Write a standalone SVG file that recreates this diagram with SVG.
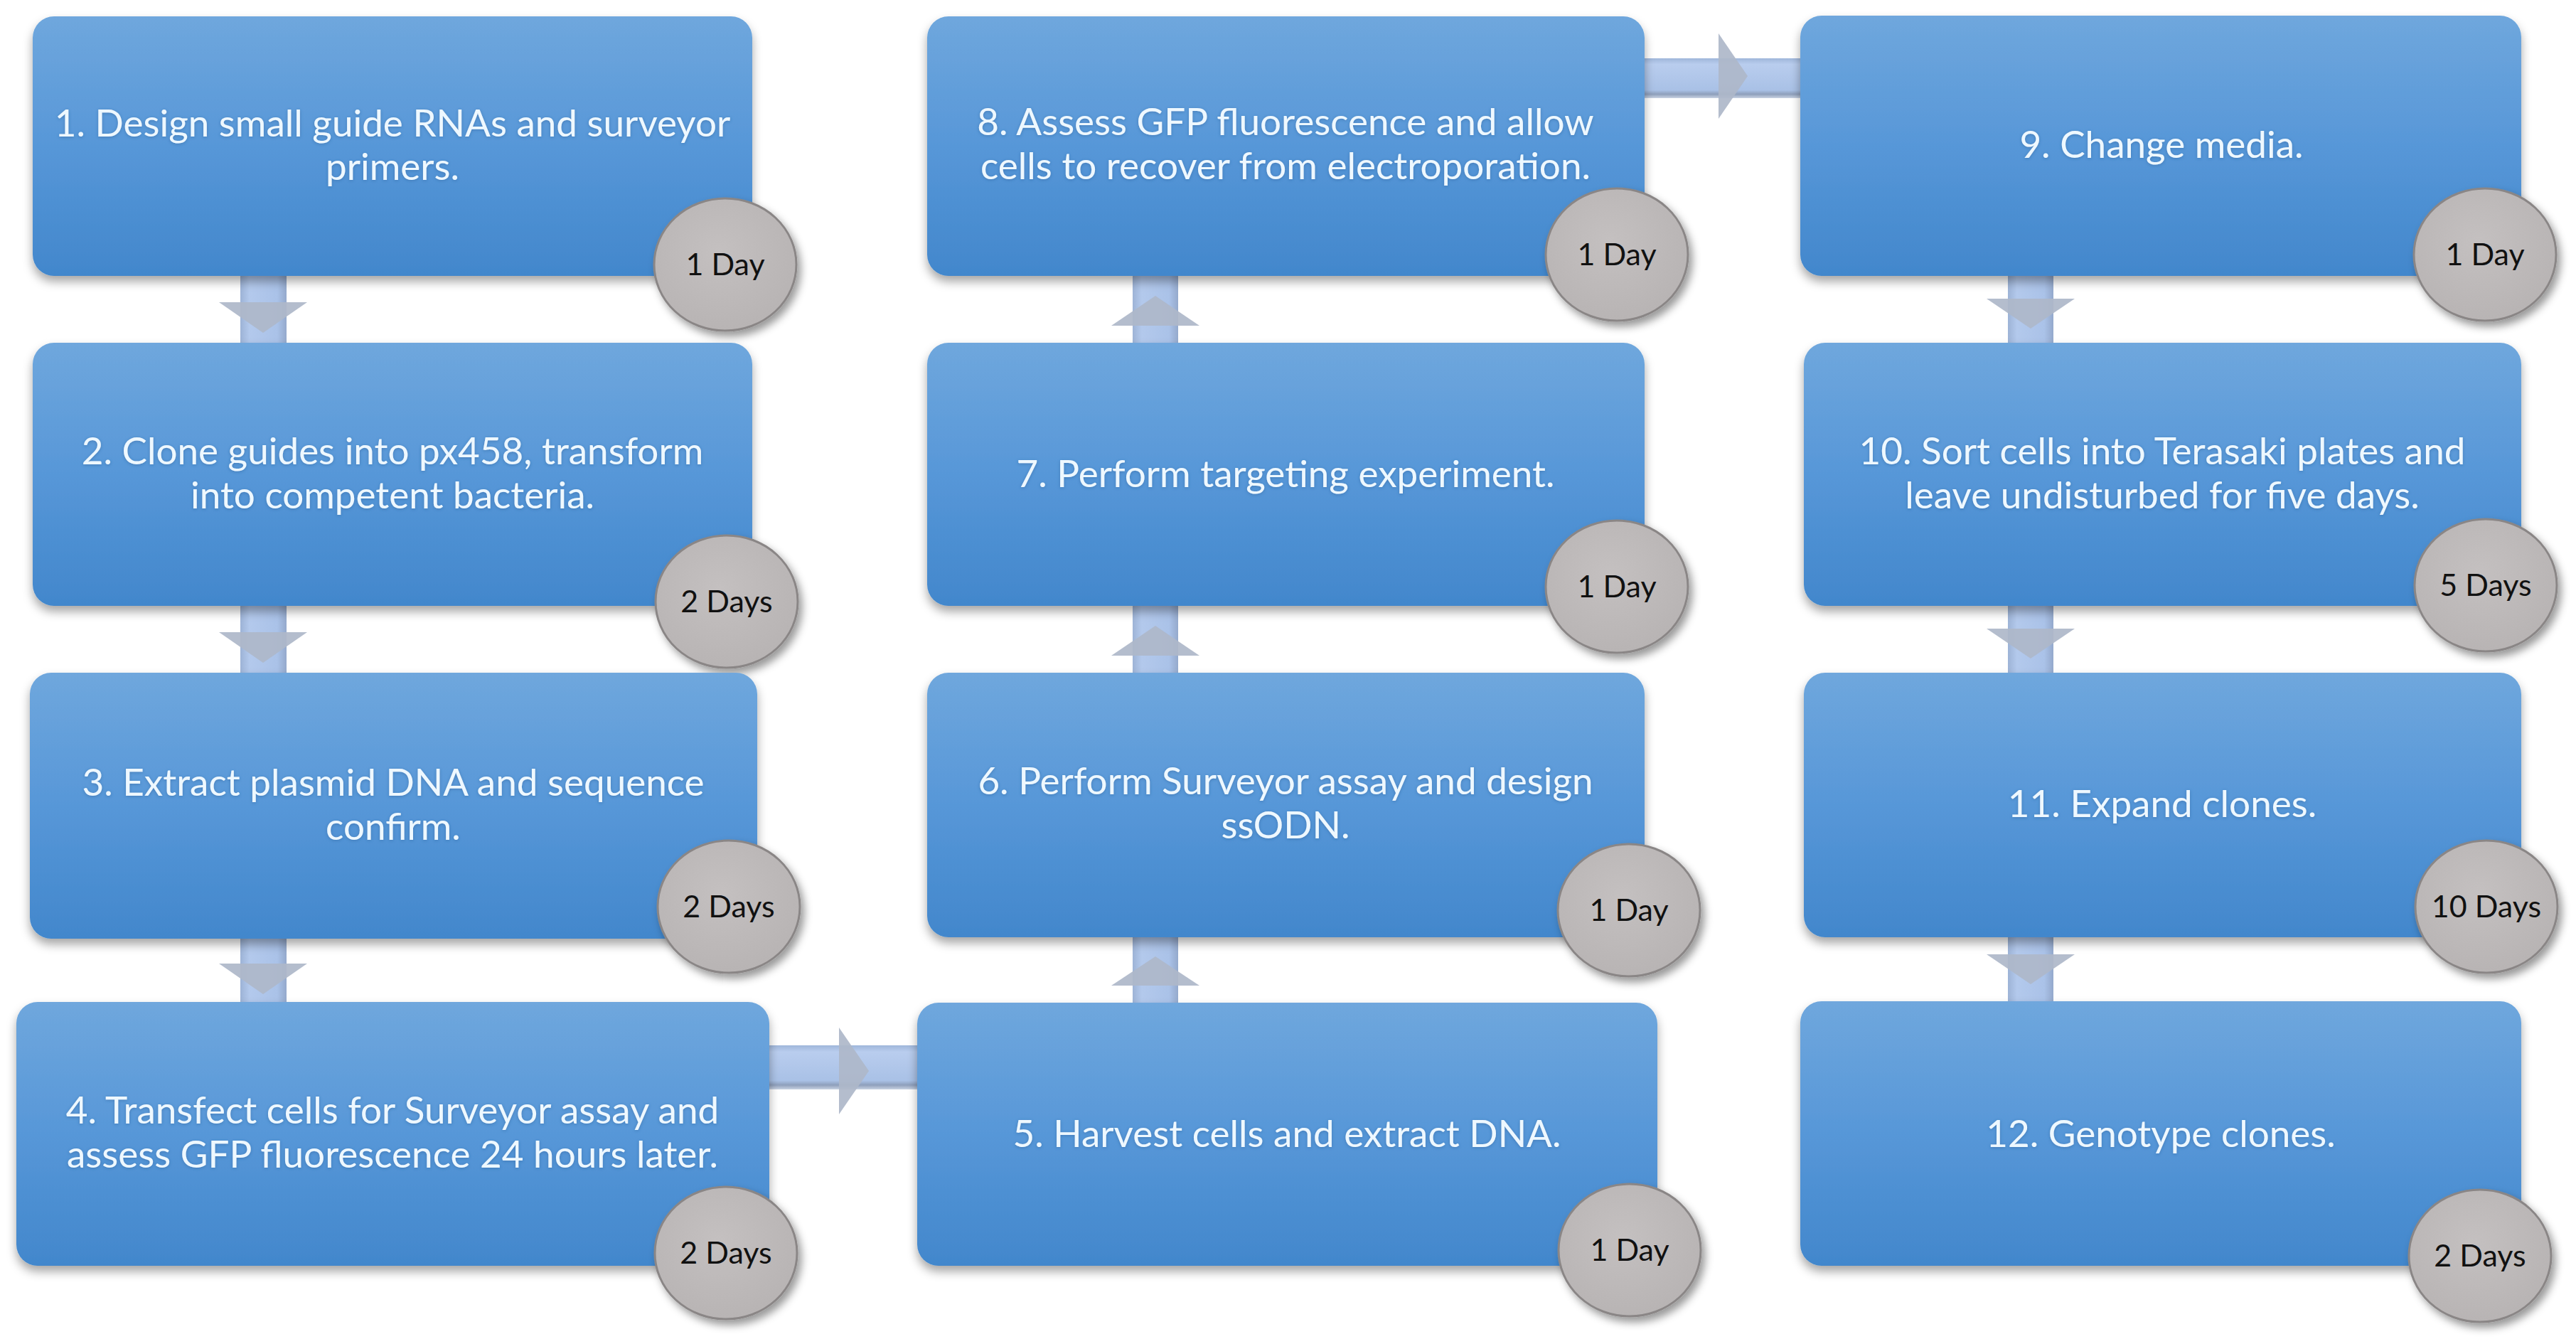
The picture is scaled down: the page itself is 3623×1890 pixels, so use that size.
<svg xmlns="http://www.w3.org/2000/svg" width="3623" height="1890" viewBox="0 0 3623 1890">
<defs>
<linearGradient id="boxg" x1="0" y1="0" x2="0" y2="1">
<stop offset="0" stop-color="#6fa7dd"/>
<stop offset="0.5" stop-color="#5797d8"/>
<stop offset="1" stop-color="#4287cc"/>
</linearGradient>
<radialGradient id="circg" cx="0.45" cy="0.4" r="0.7">
<stop offset="0" stop-color="#c4c0c0"/>
<stop offset="1" stop-color="#b6b2b2"/>
</radialGradient>
<linearGradient id="hbar" x1="0" y1="0" x2="0" y2="1">
<stop offset="0" stop-color="#9fb6da"/>
<stop offset="0.15" stop-color="#b9cdee"/>
<stop offset="0.8" stop-color="#a9c1e6"/>
<stop offset="0.9" stop-color="#8e9fbb"/>
<stop offset="1" stop-color="#c8d2e2"/>
</linearGradient>
<linearGradient id="vbar" x1="0" y1="0" x2="1" y2="0">
<stop offset="0" stop-color="#9db3d6"/>
<stop offset="0.2" stop-color="#b3c9ec"/>
<stop offset="0.8" stop-color="#aac2e8"/>
<stop offset="1" stop-color="#94a9cc"/>
</linearGradient>
<filter id="sh" x="-10%" y="-10%" width="120%" height="130%">
<feDropShadow dx="0" dy="8" stdDeviation="7" flood-color="#000" flood-opacity="0.35"/>
</filter>
<filter id="csh" x="-20%" y="-20%" width="150%" height="150%">
<feDropShadow dx="5" dy="7" stdDeviation="6" flood-color="#000" flood-opacity="0.4"/>
</filter>
<filter id="glow" x="-5%" y="-20%" width="110%" height="140%">
<feGaussianBlur in="SourceAlpha" stdDeviation="2"/>
<feOffset dx="0" dy="1" result="b"/>
<feFlood flood-color="#2a5d95" flood-opacity="0.5"/>
<feComposite in2="b" operator="in"/>
<feMerge><feMergeNode/><feMergeNode in="SourceGraphic"/></feMerge>
</filter>
</defs>
<style>
.box{fill:url(#boxg);filter:url(#sh);}
.badge{fill:url(#circg);stroke:#8a8686;stroke-width:3;filter:url(#csh);}
.t{font-family:Lato,"Open Sans","Liberation Sans",sans-serif;font-size:53px;fill:#eef8ff;text-anchor:middle;filter:url(#glow);}
.d{font-family:Lato,"Open Sans","Liberation Sans",sans-serif;font-size:43px;fill:#111;text-anchor:middle;}
.head{fill:#aeb7c9;opacity:0.92;}
</style>
<rect width="3623" height="1890" fill="#ffffff"/>
<g id="connectors">
<rect x="338" y="388" width="65" height="94" fill="url(#vbar)"/>
<polygon class="head" points="308,425 432,425 370,468"/>
<rect x="338" y="852" width="65" height="94" fill="url(#vbar)"/>
<polygon class="head" points="308,889 432,889 370,932"/>
<rect x="338" y="1320" width="65" height="89" fill="url(#vbar)"/>
<polygon class="head" points="308,1355 432,1355 370,1398"/>
<rect x="1082" y="1470" width="208" height="62" fill="url(#hbar)"/>
<polygon class="head" points="1180,1445 1180,1567 1222,1506"/>
<rect x="1593" y="1318" width="64" height="92" fill="url(#vbar)"/>
<polygon class="head" points="1563,1386 1687,1386 1625,1345"/>
<rect x="1593" y="852" width="64" height="94" fill="url(#vbar)"/>
<polygon class="head" points="1563,922 1687,922 1625,880"/>
<rect x="1593" y="388" width="64" height="94" fill="url(#vbar)"/>
<polygon class="head" points="1563,458 1687,458 1625,416"/>
<rect x="2313" y="82" width="219" height="56" fill="url(#hbar)"/>
<polygon class="head" points="2417,47 2417,167 2458,107"/>
<rect x="2824" y="388" width="64" height="94" fill="url(#vbar)"/>
<polygon class="head" points="2794,420 2918,420 2856,462"/>
<rect x="2824" y="852" width="64" height="94" fill="url(#vbar)"/>
<polygon class="head" points="2794,884 2918,884 2856,926"/>
<rect x="2824" y="1318" width="64" height="90" fill="url(#vbar)"/>
<polygon class="head" points="2794,1342 2918,1342 2856,1384"/>
</g>
<g id="node1">
<rect class="box" x="46" y="23" width="1012" height="365" rx="30"/>
<text class="t" x="552" y="192">1. Design small guide RNAs and surveyor</text>
<text class="t" x="552" y="253">primers.</text>
<ellipse class="badge" cx="1020" cy="372" rx="100" ry="93"/>
<text class="d" x="1020" y="387">1 Day</text>
</g>
<g id="node2">
<rect class="box" x="46" y="482" width="1012" height="370" rx="30"/>
<text class="t" x="552" y="653">2. Clone guides into px458, transform</text>
<text class="t" x="552" y="715">into competent bacteria.</text>
<ellipse class="badge" cx="1022" cy="846" rx="100" ry="93"/>
<text class="d" x="1022" y="861">2 Days</text>
</g>
<g id="node3">
<rect class="box" x="42" y="946" width="1023" height="374" rx="30"/>
<text class="t" x="553" y="1119">3. Extract plasmid DNA and sequence</text>
<text class="t" x="553" y="1181">confirm.</text>
<ellipse class="badge" cx="1025" cy="1275" rx="100" ry="93"/>
<text class="d" x="1025" y="1290">2 Days</text>
</g>
<g id="node4">
<rect class="box" x="23" y="1409" width="1059" height="371" rx="30"/>
<text class="t" x="552" y="1580">4. Transfect cells for Surveyor assay and</text>
<text class="t" x="552" y="1642">assess GFP fluorescence 24 hours later.</text>
<ellipse class="badge" cx="1021" cy="1762" rx="100" ry="93"/>
<text class="d" x="1021" y="1777">2 Days</text>
</g>
<g id="node5">
<rect class="box" x="1290" y="1410" width="1041" height="370" rx="30"/>
<text class="t" x="1810" y="1613">5. Harvest cells and extract DNA.</text>
<ellipse class="badge" cx="2292" cy="1758" rx="100" ry="93"/>
<text class="d" x="2292" y="1773">1 Day</text>
</g>
<g id="node6">
<rect class="box" x="1304" y="946" width="1009" height="372" rx="30"/>
<text class="t" x="1808" y="1117">6. Perform Surveyor assay and design</text>
<text class="t" x="1808" y="1179">ssODN.</text>
<ellipse class="badge" cx="2291" cy="1280" rx="100" ry="93"/>
<text class="d" x="2291" y="1295">1 Day</text>
</g>
<g id="node7">
<rect class="box" x="1304" y="482" width="1009" height="370" rx="30"/>
<text class="t" x="1808" y="685">7. Perform targeting experiment.</text>
<ellipse class="badge" cx="2274" cy="825" rx="100" ry="93"/>
<text class="d" x="2274" y="840">1 Day</text>
</g>
<g id="node8">
<rect class="box" x="1304" y="23" width="1009" height="365" rx="30"/>
<text class="t" x="1808" y="190">8. Assess GFP fluorescence and allow</text>
<text class="t" x="1808" y="252">cells to recover from electroporation.</text>
<ellipse class="badge" cx="2274" cy="358" rx="100" ry="93"/>
<text class="d" x="2274" y="373">1 Day</text>
</g>
<g id="node9">
<rect class="box" x="2532" y="22" width="1014" height="366" rx="30"/>
<text class="t" x="3040" y="222">9. Change media.</text>
<ellipse class="badge" cx="3495" cy="358" rx="100" ry="93"/>
<text class="d" x="3495" y="373">1 Day</text>
</g>
<g id="node10">
<rect class="box" x="2537" y="482" width="1009" height="370" rx="30"/>
<text class="t" x="3041" y="653">10. Sort cells into Terasaki plates and</text>
<text class="t" x="3041" y="715">leave undisturbed for five days.</text>
<ellipse class="badge" cx="3496" cy="823" rx="100" ry="93"/>
<text class="d" x="3496" y="838">5 Days</text>
</g>
<g id="node11">
<rect class="box" x="2537" y="946" width="1009" height="372" rx="30"/>
<text class="t" x="3041" y="1149">11. Expand clones.</text>
<ellipse class="badge" cx="3497" cy="1275" rx="100" ry="93"/>
<text class="d" x="3497" y="1290">10 Days</text>
</g>
<g id="node12">
<rect class="box" x="2532" y="1408" width="1014" height="372" rx="30"/>
<text class="t" x="3039" y="1613">12. Genotype clones.</text>
<ellipse class="badge" cx="3488" cy="1766" rx="100" ry="93"/>
<text class="d" x="3488" y="1781">2 Days</text>
</g>
</svg>
